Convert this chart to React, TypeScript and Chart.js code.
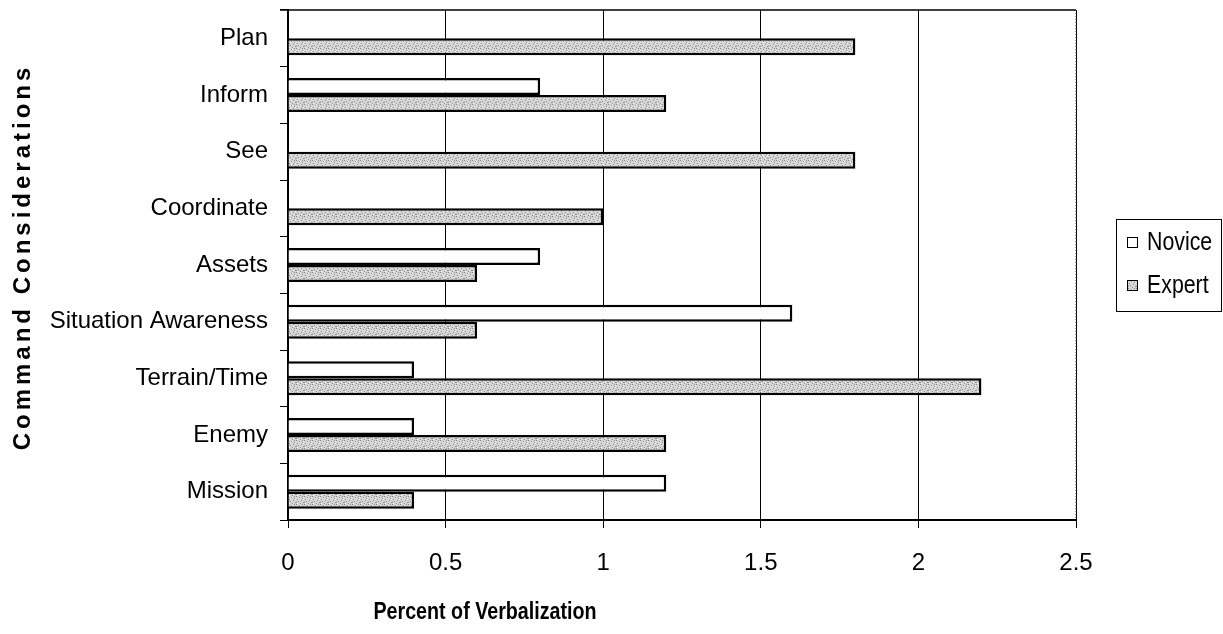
import React, { useEffect, useRef } from "react";
import { Chart, registerables } from "chart.js";

Chart.register(...registerables);

const categories = [
  "Plan",
  "Inform",
  "See",
  "Coordinate",
  "Assets",
  "Situation Awareness",
  "Terrain/Time",
  "Enemy",
  "Mission",
];
const noviceValues = [0, 0.8, 0, 0, 0.8, 1.6, 0.4, 0.4, 1.2];
const expertValues = [1.8, 1.2, 1.8, 1.0, 0.6, 0.6, 2.2, 1.2, 0.4];
const xTickValues = [0, 0.5, 1, 1.5, 2, 2.5];
const xTickLabels = ["0", "0.5", "1", "1.5", "2", "2.5"];
const seriesNames = ["Novice", "Expert"];
const xAxisTitle = "Percent of Verbalization";
const yAxisTitle = "Command Considerations";

const SANS = "'Liberation Sans', Arial, sans-serif";

function makeStipple(): CanvasPattern | string {
  const c = document.createElement("canvas");
  c.width = 8;
  c.height = 8;
  const g = c.getContext("2d");
  if (!g) return "#c8c8c8";
  g.fillStyle = "#d4d4d4";
  g.fillRect(0, 0, 8, 8);
  g.fillStyle = "#8a8a8a";
  [[0, 0], [3, 1], [6, 2], [1, 3], [5, 4], [2, 5], [7, 6], [4, 7], [0, 6], [6, 0]].forEach(([x, y]) =>
    g.fillRect(x, y, 1, 1)
  );
  g.fillStyle = "#f4f4f4";
  [[2, 2], [5, 6], [7, 3], [1, 7], [4, 1], [3, 4]].forEach(([x, y]) => g.fillRect(x, y, 1, 1));
  const p = g.createPattern(c, "repeat");
  return p || "#c8c8c8";
}

function narrowText(ctx: CanvasRenderingContext2D, text: string, x: number, y: number, align: CanvasTextAlign) {
  ctx.save();
  ctx.translate(x, y);
  ctx.scale(0.82, 1);
  ctx.textAlign = align;
  ctx.textBaseline = "middle";
  ctx.fillText(text, 0, 0);
  ctx.restore();
}

const decorPlugin = {
  id: "decor",
  afterDraw(chart: any) {
    const { ctx, chartArea: a } = chart;
    ctx.save();
    // plot frame: top solid, right dotted
    ctx.strokeStyle = "#000";
    ctx.lineWidth = 1.5;
    ctx.beginPath();
    ctx.moveTo(a.left - 8, a.top);
    ctx.lineTo(a.right, a.top);
    ctx.stroke();
    ctx.setLineDash([1, 2]);
    ctx.lineWidth = 1;
    ctx.strokeStyle = "#333";
    ctx.beginPath();
    ctx.moveTo(a.right, a.top);
    ctx.lineTo(a.right, a.bottom);
    ctx.stroke();
    ctx.setLineDash([]);

    // x axis title
    ctx.fillStyle = "#000";
    ctx.font = `bold 24px ${SANS}`;
    narrowText(ctx, xAxisTitle, a.left + (a.right - a.left) * 0.25, a.bottom + 92, "center");

    // y axis title (rotated, letter-spaced)
    ctx.save();
    ctx.translate(23, (a.top + a.bottom) / 2 - 6);
    ctx.rotate(-Math.PI / 2);
    ctx.font = `bold 24px ${SANS}`;
    (ctx as any).letterSpacing = "4px";
    ctx.textAlign = "center";
    ctx.textBaseline = "middle";
    ctx.fillText(yAxisTitle, 2, 0);
    ctx.restore();

    // legend
    const lx = a.right + 40;
    const cy = (a.top + a.bottom) / 2;
    const lw = 105;
    const lh = 92;
    const ly = cy - lh / 2;
    ctx.strokeStyle = "#000";
    ctx.lineWidth = 1;
    ctx.strokeRect(lx + 0.5, ly + 0.5, lw, lh);
    const ds = chart.data.datasets;
    const offsets = [-22, 21];
    ds.forEach((d: any, i: number) => {
      const y = cy + offsets[i];
      ctx.fillStyle = d.backgroundColor;
      ctx.fillRect(lx + 11, y - 6, 11, 11);
      ctx.strokeStyle = "#000";
      ctx.lineWidth = 1;
      ctx.strokeRect(lx + 11.5, y - 5.5, 10, 10);
      ctx.fillStyle = "#000";
      ctx.font = `26px ${SANS}`;
      narrowText(ctx, d.label, lx + 31, y, "left");
    });
    ctx.restore();
  },
};

export default function App() {
  const ref = useRef<HTMLCanvasElement | null>(null);

  useEffect(() => {
    if (!ref.current) return;
    const stipple = makeStipple();
    const chart = new Chart(ref.current, {
      type: "bar",
      data: {
        labels: categories,
        datasets: [
          {
            label: seriesNames[0],
            data: noviceValues,
            backgroundColor: "#ffffff",
            borderColor: "#000000",
            borderWidth: 2.5,
          },
          {
            label: seriesNames[1],
            data: expertValues,
            backgroundColor: stipple as any,
            borderColor: "#000000",
            borderWidth: 2.5,
          },
        ],
      },
      options: {
        indexAxis: "y",
        responsive: false,
        animation: false,
        events: [],
        layout: { padding: { left: 0, top: 10, right: 147, bottom: 0 } },
        datasets: { bar: { categoryPercentage: 0.6, barPercentage: 1.0 } },
        plugins: {
          legend: { display: false },
          tooltip: { enabled: false },
          title: { display: false },
        },
        scales: {
          x: {
            type: "linear",
            min: 0,
            max: 2.5,
            afterBuildTicks: (s: any) => {
              s.ticks = xTickValues.map((v) => ({ value: v }));
            },
            afterFit: (s: any) => {
              s.height = 114;
            },
            grid: { color: "#000", lineWidth: 1, tickLength: 8, drawTicks: true },
            border: { color: "#000", width: 2 },
            ticks: {
              color: "#000",
              padding: 21,
              font: { family: SANS, size: 24 },
              callback: (_v: any, i: number) => xTickLabels[i],
            },
          },
          y: {
            type: "category",
            offset: true,
            afterFit: (s: any) => {
              s.width = 288;
              s.paddingTop = 0;
              s.paddingBottom = 0;
            },
            grid: {
              display: true,
              drawOnChartArea: false,
              drawTicks: true,
              tickLength: 8,
              color: "#000",
              lineWidth: 1,
              offset: true,
            },
            border: { color: "#000", width: 2 },
            ticks: {
              color: "#000",
              padding: 12,
              autoSkip: false,
              font: { family: SANS, size: 24 },
            },
          },
        },
      },
      plugins: [decorPlugin],
    });
    return () => chart.destroy();
  }, []);

  return (
    <div style={{ position: "fixed", left: 0, top: 0, width: 1223, height: 634, background: "#fff" }}>
      <canvas ref={ref} width={1223} height={634} style={{ width: 1223, height: 634, display: "block" }} />
    </div>
  );
}
